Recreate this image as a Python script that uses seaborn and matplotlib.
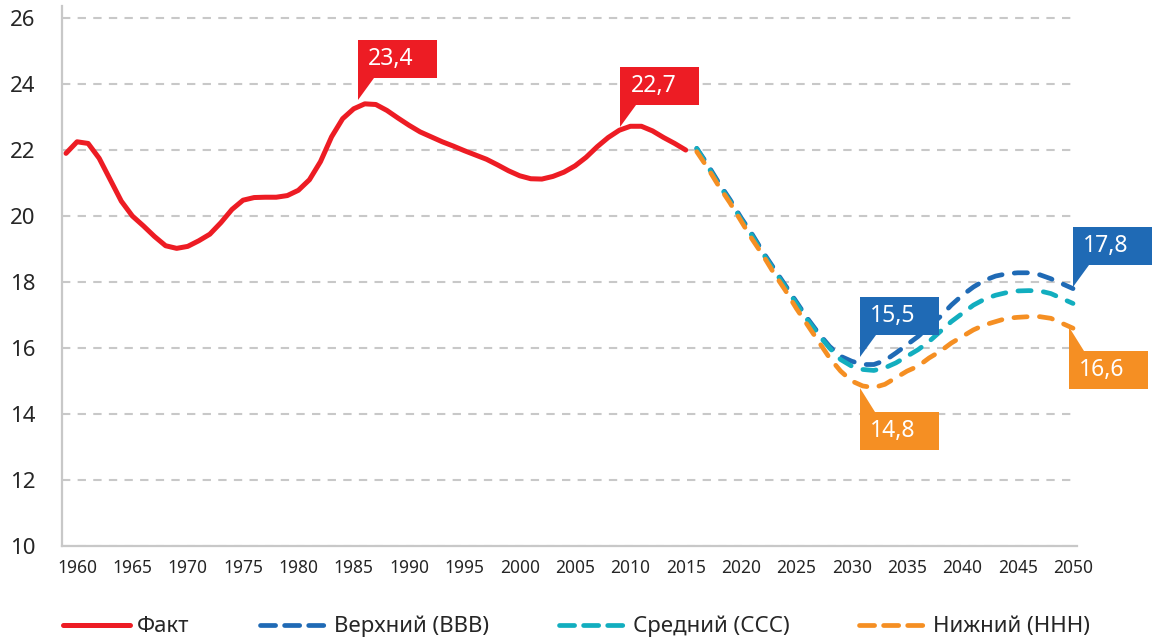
import numpy as np
import pandas as pd
import seaborn as sns
import matplotlib.pyplot as plt
import matplotlib.transforms as mtransforms
from matplotlib.patches import Polygon, Rectangle
from matplotlib.lines import Line2D

# ---- data ----
fact_years = list(range(1959, 2016))
fact_values = [21.9, 22.25, 22.2, 21.75, 21.1, 20.45, 20.0, 19.7, 19.38, 19.1,
               19.02, 19.08, 19.25, 19.45, 19.8, 20.2, 20.48, 20.56, 20.57, 20.57,
               20.62, 20.78, 21.1, 21.65, 22.4, 22.95, 23.25, 23.4, 23.38, 23.2,
               22.97, 22.75, 22.55, 22.4, 22.25, 22.12, 21.98, 21.85, 21.72, 21.55,
               21.37, 21.22, 21.13, 21.12, 21.2, 21.33, 21.52, 21.78, 22.1, 22.38,
               22.6, 22.72, 22.72, 22.58, 22.38, 22.2, 22.0]

proj_years = list(range(2016, 2051))
upper_values = [22.05, 21.55, 21.0, 20.5, 19.95, 19.45, 18.9, 18.4, 17.9, 17.4,
                16.9, 16.45, 16.05, 15.75, 15.6, 15.5, 15.5, 15.62, 15.85, 16.1,
                16.35, 16.65, 16.95, 17.3, 17.6, 17.85, 18.05, 18.18, 18.25, 18.28,
                18.28, 18.22, 18.1, 17.95, 17.8]
middle_values = [22.05, 21.5, 20.95, 20.45, 19.9, 19.4, 18.85, 18.35, 17.85, 17.35,
                 16.85, 16.4, 16.0, 15.65, 15.45, 15.35, 15.32, 15.4, 15.55, 15.75,
                 15.95, 16.2, 16.5, 16.8, 17.05, 17.3, 17.48, 17.6, 17.68, 17.73,
                 17.74, 17.73, 17.65, 17.5, 17.35]
lower_values = [21.95, 21.45, 20.9, 20.4, 19.85, 19.3, 18.8, 18.25, 17.75, 17.2,
                16.7, 16.2, 15.7, 15.3, 15.0, 14.85, 14.8, 14.9, 15.1, 15.3,
                15.45, 15.7, 15.9, 16.15, 16.35, 16.55, 16.7, 16.8, 16.9, 16.93,
                16.95, 16.95, 16.9, 16.75, 16.6]

labels = ['Факт', 'Верхний (ВВВ)', 'Средний (ССС)', 'Нижний (ННН)']
colors = ['#ED1C24', '#1F6AB5', '#12AEBF', '#F58F23']

sns.set_style('white')
plt.rcParams['font.family'] = ['Noto Sans', 'DejaVu Sans']

fig = plt.figure(figsize=(11.52, 6.42), dpi=100)
ax = fig.add_axes([0.05382, 0.14953, 0.88108, 0.84035])

dash = (0, (2.8, 2.6))
sns.lineplot(x=fact_years, y=fact_values, ax=ax, color=colors[0], linewidth=3.6,
             solid_capstyle='round', estimator=None)
for vals, col in zip([upper_values, middle_values, lower_values], colors[1:]):
    sns.lineplot(x=proj_years, y=vals, ax=ax, color=col, linewidth=3.4,
                 linestyle=dash, dash_capstyle='round', estimator=None)

ax.set_xlim(1958.64, 2050.36)
ax.set_ylim(10, 26.35)
ax.set_xticks(range(1960, 2051, 5))
ax.set_yticks(range(10, 27, 2))
ax.yaxis.grid(True, color='#C8C8C8', linewidth=1.5, linestyle=(0, (4, 3.5)))
ax.xaxis.grid(False)
for s in ['top', 'right']:
    ax.spines[s].set_visible(False)
for s in ['left', 'bottom']:
    ax.spines[s].set_color('#C8C8C8')
    ax.spines[s].set_linewidth(1.6)
ax.tick_params(axis='y', length=0, pad=19, labelsize=16, labelcolor='#262626')
ax.tick_params(axis='x', length=0, pad=9, labelsize=12.5, labelcolor='#262626')
ax.set_xlabel('')
ax.set_ylabel('')


# callout boxes with a pointer, sizes in pixels
def callout(year, value, color, tip_dx, tip_dy, below=False):
    tr = (mtransforms.Affine2D().scale(0.01) + fig.dpi_scale_trans +
          mtransforms.ScaledTranslation(year, value, ax.transData))
    w, h = 79, 38
    if below:
        ptr = 24
        tri = [(tip_dx, tip_dy), (tip_dx, tip_dy - ptr), (tip_dx + 15, tip_dy - ptr)]
        by = tip_dy - ptr - h
    else:
        ptr = 22
        tri = [(tip_dx, tip_dy), (tip_dx, tip_dy + ptr), (tip_dx + 16, tip_dy + ptr)]
        by = tip_dy + ptr
    ax.add_patch(Polygon(tri, closed=True, facecolor=color, edgecolor='none',
                         transform=tr, clip_on=False, zorder=5))
    ax.add_patch(Rectangle((tip_dx, by), w, h, facecolor=color, edgecolor='none',
                           transform=tr, clip_on=False, zorder=5))
    txt = f'{value:.1f}'.replace('.', ',')
    ax.text(tip_dx + 10, by + h / 2, txt, transform=tr, color='white', fontsize=16.5,
            ha='left', va='center', zorder=6, clip_on=False)


callout(1986, fact_values[fact_years.index(1986)], colors[0], -7, 4)
callout(2011, fact_values[fact_years.index(2011)], colors[0], -21, -1)
callout(2031, upper_values[proj_years.index(2031)], colors[1], -3, 8)
callout(2050, upper_values[-1], colors[1], 0, 2)
callout(2032, lower_values[proj_years.index(2032)], colors[3], -14, 0, below=True)
callout(2050, lower_values[-1], colors[3], -4, 1, below=True)

handles = [Line2D([], [], color=colors[0], linewidth=3.6)]
for col in colors[1:]:
    handles.append(Line2D([], [], color=col, linewidth=3.4, linestyle=(0, (3.2, 1.9)),
                          dash_capstyle='round'))
fig.legend(handles, labels, loc='center left', bbox_to_anchor=(0.0547, 0.024),
           ncol=4, frameon=False, fontsize=16, handlelength=3.0,
           handletextpad=0.33, columnspacing=3.15, borderpad=0, borderaxespad=0,
           labelcolor='#262626')

fig.savefig('out.png', dpi=100)
